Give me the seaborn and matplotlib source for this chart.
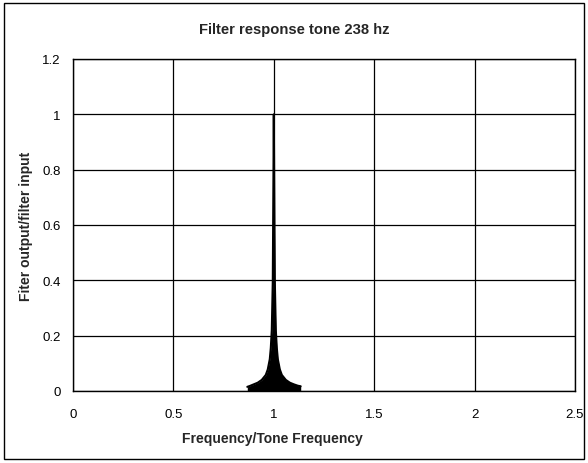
import matplotlib
matplotlib.use("Agg")
import matplotlib.pyplot as plt
import seaborn as sns
import pandas as pd
from matplotlib.patches import Rectangle

# Envelope of the filter response
freq = [0.868, 0.880, 0.900, 0.920, 0.940, 0.960, 0.970, 0.980, 0.985, 0.990,
        0.995, 0.998, 1.000, 1.002, 1.005, 1.010, 1.015, 1.020, 1.030, 1.040,
        1.060, 1.080, 1.100, 1.120, 1.134]
response = [0.015, 0.018, 0.024, 0.030, 0.040, 0.058, 0.078, 0.115, 0.155, 0.22,
            0.40, 0.75, 1.00, 0.75, 0.40, 0.22, 0.155, 0.115, 0.078, 0.058,
            0.040, 0.030, 0.024, 0.019, 0.017]

x_ticks = [0, 0.5, 1, 1.5, 2, 2.5]
x_tick_labels = ["0", "0.5", "1", "1.5", "2", "2.5"]
y_ticks = [0, 0.2, 0.4, 0.6, 0.8, 1, 1.2]
y_tick_labels = ["0", "0.2", "0.4", "0.6", "0.8", "1", "1.2"]

title = "Filter response tone 238 hz"
xlabel = "Frequency/Tone Frequency"
ylabel = "Fiter output/filter input"

df = pd.DataFrame({"freq": freq, "response": response})

sns.set_style("white")
plt.rcParams["font.family"] = ["Liberation Sans", "DejaVu Sans"]

fig = plt.figure(figsize=(5.88, 4.64), dpi=100)
ax = fig.add_axes([73 / 588, 1 - 392 / 464, (575 - 73) / 588, (392 - 60) / 464])

ax.fill_between(df["freq"], 0, df["response"], color="black", linewidth=0)
sns.lineplot(data=df, x="freq", y="response", ax=ax, color="black", linewidth=1.5)

ax.set_xlim(0, 2.5)
ax.set_ylim(0, 1.2)
ax.set_xticks(x_ticks)
ax.set_xticklabels(x_tick_labels)
ax.set_yticks(y_ticks)
ax.set_yticklabels(y_tick_labels)
ax.tick_params(axis="both", direction="out", length=4, width=1, color="black",
               labelsize=9.5, labelcolor="black", pad=5)
ax.tick_params(axis="x", pad=8)
ax.grid(True, color="black", linewidth=0.9)
ax.set_axisbelow(True)
for s in ax.spines.values():
    s.set_color("black")
    s.set_linewidth(1.0)

ax.set_xlabel(xlabel, fontsize=10, fontweight="bold")
ax.set_ylabel(ylabel, fontsize=10, fontweight="bold")
ax.xaxis.set_label_coords((272 - 73) / 502, -40 / 332)
ax.yaxis.set_label_coords(-40 / 502, 0.5)

fig.text(0.5, 1 - 30 / 464, title, ha="center", va="center", fontsize=10.6,
         fontweight="bold")

fig.patches.append(Rectangle((4 / 588, 4 / 464), 580 / 588, 456 / 464,
                             transform=fig.transFigure, fill=False,
                             edgecolor="black", linewidth=1.0))

fig.savefig("out.png", dpi=100)
